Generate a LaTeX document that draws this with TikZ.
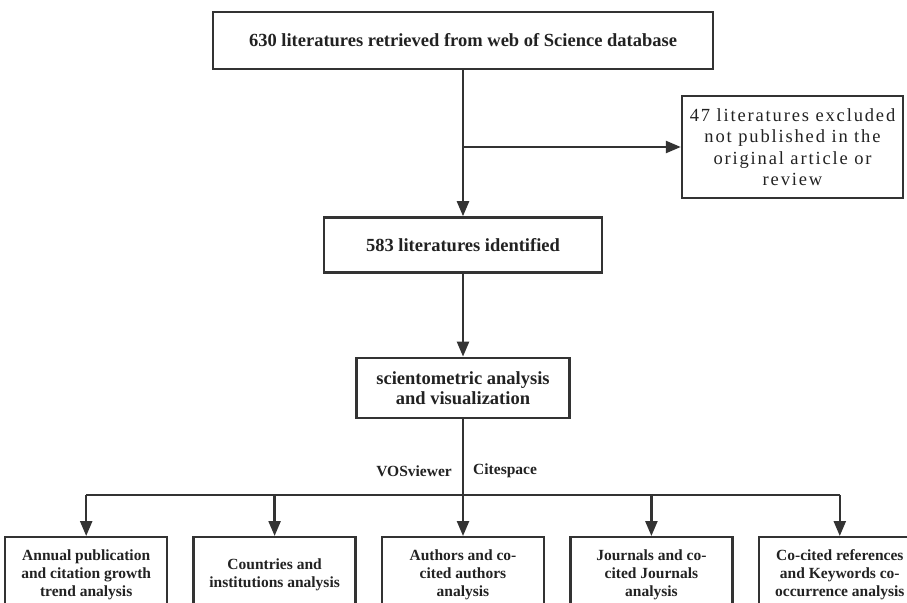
\documentclass[tikz,border=0pt]{standalone}
\usepackage{fontspec}
\setmainfont{Liberation Serif}
\newfontfamily\spacedfont[LetterSpace=10]{Liberation Serif}
\usetikzlibrary{positioning, arrows.meta}
\definecolor{linegray}{RGB}{51, 51, 51}
\definecolor{textgray}{RGB}{34, 34, 34}

\begin{document}
\begin{tikzpicture}[
            x=1pt, y=-1pt,
            node distance=24pt and 24pt,
            box/.style={draw=linegray, line width=2.4pt, fill=white, inner sep=0pt, align=center, text=textgray, font=\bfseries\fontsize{18.5}{20}\selectfont},
            stage/.style={box, minimum width=162pt, minimum height=76pt, font=\bfseries\fontsize{15.5}{18}\selectfont},
            flow/.style={draw=linegray, line width=2.4pt},
            arrow/.style={flow, -{Triangle[length=15pt, width=12pt]}},
            tool/.style={text=textgray, inner sep=0pt, font=\bfseries\fontsize{15.5}{17}\selectfont}
        ]
            \useasboundingbox (0,0) rectangle (907,602);
            \clip (0,0) rectangle (907,602);

            \node[box, minimum width=500pt, minimum height=57pt] (retrieved) at (463,40.5) {630 literatures retrieved from web of Science database};
            \node[box, minimum width=278pt, minimum height=55pt, below=146pt of retrieved] (identified) {583 literatures identified};
            \node[box, minimum width=213pt, minimum height=60pt, below=83pt of identified] (analysis) {scientometric analysis\\and visualization};
            \node[box, minimum width=221pt, minimum height=102pt, font=\spacedfont\fontsize{18.5}{21.5}\selectfont] (excluded) at (792.5,147) {47 literatures excluded\\not published in the\\original article or\\review};

            \node[stage, below=117pt of analysis] (authors) {Authors and co-\\cited authors\\analysis};
            \node[stage, left=of authors] (countries) {Countries and\\institutions analysis};
            \node[stage, left=of countries] (annual) {Annual publication\\and citation growth\\trend analysis};
            \node[stage, right=of authors] (journals) {Journals and co-\\cited Journals\\analysis};
            \node[stage, right=of journals] (cocited) {Co-cited references\\and Keywords co-\\occurrence analysis};

            \coordinate (split) at (retrieved.south |- excluded.west);
            \coordinate (bus) at (analysis.south |- 0,495);

            \draw[flow] (retrieved) -- (split);
            \draw[arrow] (split) -- (identified);
            \draw[arrow] (split) -- (excluded);
            \draw[arrow] (identified) -- (analysis);

            \draw[flow] (analysis) -- (bus);
            \draw[flow] (bus -| annual) -- (bus -| cocited);
            \draw[arrow] (bus -| annual) -- (annual);
            \draw[arrow] (bus -| countries) -- (countries);
            \draw[arrow] (bus) -- (authors);
            \draw[arrow] (bus -| journals) -- (journals);
            \draw[arrow] (bus -| cocited) -- (cocited);

            \node[tool, anchor=east] (vos) at (452,471) {VOSviewer};
            \node[tool, anchor=west] (cite) at (473,471) {Citespace};
        \end{tikzpicture}
\end{document}
